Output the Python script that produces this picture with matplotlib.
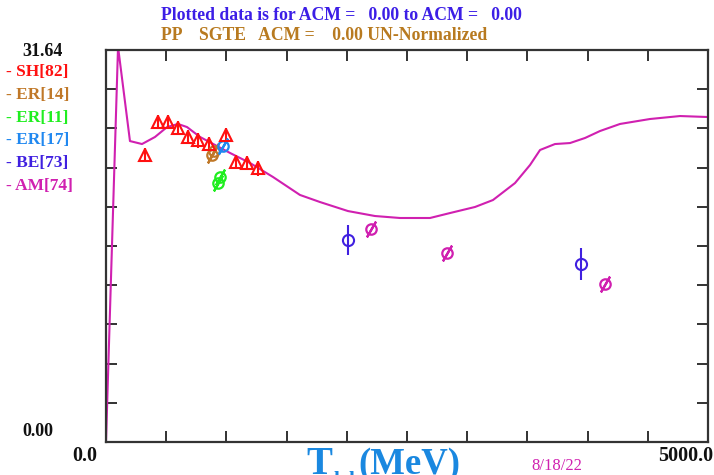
import numpy as np
import matplotlib.pyplot as plt

# theory curve (magenta)
curve_T = [0, 100, 199, 299, 407, 507, 598, 673, 781, 922, 1030, 1196, 1387, 1611,
           1777, 2010, 2234, 2442, 2691, 2857, 3065, 3214, 3397, 3522, 3605, 3729,
           3854, 3979, 4103, 4269, 4518, 4768, 5000]
curve_y = [0.0, 31.9, 24.29, 24.05, 24.62, 25.42, 25.67, 25.42, 24.62, 23.89, 23.33,
           22.52, 21.39, 19.94, 19.37, 18.64, 18.24, 18.08, 18.08, 18.48, 18.97,
           19.53, 20.90, 22.36, 23.57, 24.05, 24.13, 24.54, 25.10, 25.67, 26.07,
           26.31, 26.23]

# data sets
sh_T = [324, 432, 515, 598, 681, 764, 855, 997, 1080, 1171, 1263]
sh_y = [23.16, 25.83, 25.83, 25.34, 24.62, 24.37, 24.05, 24.78, 22.60, 22.52, 22.11]
sh_err = [0.6] * len(sh_T)

er14_T = [880, 900]
er14_y = [23.2, 23.5]

er11_T = [930, 945]
er11_y = [20.9, 21.4]

er17_T = [972]
er17_y = [23.89]

be_T = [2010, 3945]
be_y = [16.30, 14.37]
be_err = [1.2, 1.3]

am_T = [2201, 2832, 4145]
am_y = [17.19, 15.25, 12.75]

labels = ['- SH[82]', '- ER[14]', '- ER[11]', '- ER[17]', '- BE[73]', '- AM[74]']
colors = ['#ff1010', '#c07828', '#20ee20', '#2088f0', '#4020e0', '#d020b0']

ymax = 31.64
xmax = 5000.0

W, H = 714, 475
fig = plt.figure(figsize=(W / 100, H / 100), dpi=100)
ax = fig.add_axes([106 / W, 1 - 442 / H, 602 / W, 392 / H])


def px(x, y):
    return x / W, 1 - y / H


serif = 'Liberation Serif'

ax.plot(curve_T, curve_y, color='#d020b0', lw=1.5, zorder=2)

ax.errorbar(sh_T, sh_y, yerr=sh_err, fmt='^', ms=8, mfc='none', mec=colors[0],
            mew=1.5, ecolor=colors[0], elinewidth=1.5, capsize=0, zorder=4)

slash = (2, 2, -30)
for T, y, c in [(er14_T, er14_y, colors[1]), (er11_T, er11_y, colors[2]),
                (er17_T, er17_y, colors[3]), (am_T, am_y, colors[5])]:
    ax.plot(T, y, 'o', ms=7.5, mfc='none', mec=c, mew=1.6, ls='none', zorder=4)
    ax.plot(T, y, marker=slash, ms=13, mec=c, mew=1.6, ls='none', zorder=4)

ax.errorbar(be_T, be_y, yerr=be_err, fmt='o', ms=8, mfc='none', mec=colors[4],
            mew=1.5, ecolor=colors[4], elinewidth=1.5, capsize=0, zorder=4)

ax.set_xlim(0, xmax)
ax.set_ylim(0, ymax)
ax.set_xticks(np.linspace(0, xmax, 11))
ax.set_yticks(np.linspace(0, ymax, 11))
ax.tick_params(direction='in', length=8, width=1.3, color='#222222',
               top=True, right=True, labelbottom=False, labelleft=False)
for s in ax.spines.values():
    s.set_linewidth(1.6)
    s.set_color('#333333')

# titles
fig.text(*px(161, 15), 'Plotted data is for ACM =   0.00 to ACM =   0.00',
         color='#3c1ee6', fontsize=12.7, fontweight='bold', family=serif,
         ha='left', va='center')
fig.text(*px(161, 35), 'PP    SGTE   ACM =    0.00 UN-Normalized',
         color='#b87a20', fontsize=12.7, fontweight='bold', family=serif,
         ha='left', va='center')

# axis range labels
fig.text(*px(22, 51), '%.2f' % ymax, fontsize=13, fontweight='bold', family=serif,
         ha='left', va='center', color='#111111')
fig.text(*px(22, 432), '0.00', fontsize=13, fontweight='bold', family=serif,
         ha='left', va='center', color='#111111')
fig.text(*px(72, 456), '0.0', fontsize=14.5, fontweight='bold', family=serif,
         ha='left', va='center', color='#111111')
fig.text(*px(713, 456), '%.1f' % xmax, fontsize=14.5, fontweight='bold', family=serif,
         ha='right', va='center', color='#111111')

# legend on the left
for i, (lab, c) in enumerate(zip(labels, colors)):
    fig.text(*px(6, 72 + i * 22.8), lab, color=c, fontsize=12.5, fontweight='bold',
             family=serif, ha='left', va='center')

# x label
fig.text(*px(306, 474), 'T', color='#1a88e0', fontsize=28, fontweight='bold',
         family=serif, ha='left', va='baseline')
fig.text(*px(334, 486), 'lab', color='#1a88e0', fontsize=15, fontweight='bold',
         family=serif, ha='left', va='baseline')
fig.text(*px(358, 474), '(MeV)', color='#1a88e0', fontsize=26.5, fontweight='bold',
         family=serif, ha='left', va='baseline')

fig.text(*px(531, 466), '8/18/22', color='#d020b0', fontsize=12, family=serif,
         ha='left', va='center')

fig.savefig('out.png', dpi=100)
